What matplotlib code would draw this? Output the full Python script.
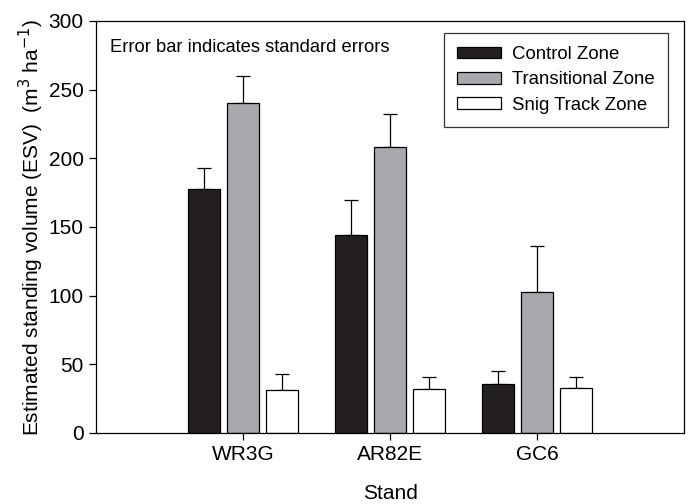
import numpy as np
import matplotlib
matplotlib.use('Agg')
import matplotlib.pyplot as plt

plt.rcParams['font.family'] = ['Liberation Sans', 'DejaVu Sans']

# Datos
stands = ['WR3G', 'AR82E', 'GC6']
zones = ['Control Zone', 'Transitional Zone', 'Snig Track Zone']
control = [178, 144, 36]
control_se = [15, 26, 9]
transitional = [240, 208, 103]
transitional_se = [20, 24, 33]
snig = [31, 32, 33]
snig_se = [12, 9, 8]

colors = ['#231f20', '#a7a9ac', '#ffffff']
values = [control, transitional, snig]
errors = [control_se, transitional_se, snig_se]

x = np.arange(1, len(stands) + 1)
width = 0.22
offset = 0.265

fig = plt.figure(figsize=(6.93, 5.04), dpi=100)
ax = fig.add_axes([96 / 693, 1 - 433 / 504, 588 / 693, 412 / 504])

for i in range(3):
    ax.bar(x + (i - 1) * offset, values[i], width, color=colors[i],
           edgecolor='black', linewidth=0.9, label=zones[i], zorder=2)
    ax.errorbar(x + (i - 1) * offset, values[i],
                yerr=[np.zeros(len(stands)), errors[i]],
                fmt='none', ecolor='black', elinewidth=0.9, capsize=5,
                capthick=0.9, zorder=1)

ax.set_xlim(0, 4)
ax.set_ylim(0, 300)
ax.set_xticks(x)
ax.set_xticklabels(stands)
ax.set_yticks(np.arange(0, 301, 50))
ax.tick_params(direction='out', length=5, width=0.9, labelsize=15, pad=4)
for s in ax.spines.values():
    s.set_linewidth(0.9)

ax.set_ylabel('Estimated standing volume (ESV)  (m$^3$ ha$^{-1}$)', fontsize=15,
              labelpad=2)
ax.set_xlabel('Stand', fontsize=15, labelpad=14)

ax.text(110 / 693, 1 - 47 / 504, 'Error bar indicates standard errors',
        transform=fig.transFigure, fontsize=13.2, va='center', ha='left')

leg = ax.legend(loc='upper right', bbox_to_anchor=(668 / 693, 1 - 33 / 504),
                bbox_transform=fig.transFigure, borderaxespad=0, fontsize=13.4,
                frameon=True, fancybox=False, edgecolor='black',
                handlelength=2.37, handleheight=0.6, labelspacing=0.45,
                borderpad=0.7, handletextpad=0.6)
leg.get_frame().set_linewidth(0.9)

fig.savefig('out.png', dpi=100)
